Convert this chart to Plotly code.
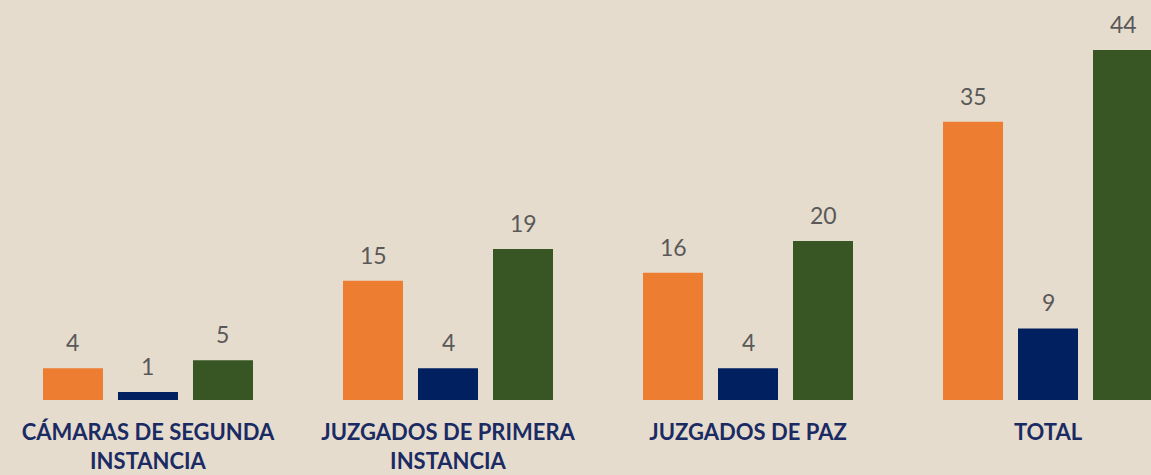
import plotly.graph_objects as go

categories = ["CÁMARAS DE SEGUNDA<br>INSTANCIA", "JUZGADOS DE PRIMERA<br>INSTANCIA", "JUZGADOS DE PAZ", "TOTAL"]
series_names = ["Serie 1", "Serie 2", "Serie 3"]
series_a = [4, 15, 16, 35]
series_b = [1, 4, 4, 9]
series_c = [5, 19, 20, 44]
colors = ["#ED7D31", "#002060", "#375623"]

all_series = [series_a, series_b, series_c]
xpos = list(range(len(categories)))

fig = go.Figure()
for name, vals, col in zip(series_names, all_series, colors):
    fig.add_trace(go.Bar(x=xpos, y=vals, name=name, marker_color=col, marker_line_width=0))

offsets = [-0.25, 0.0, 0.25]
for off, vals in zip(offsets, all_series):
    for i, v in enumerate(vals):
        fig.add_annotation(x=i + off, y=v, xref="x", yref="y", text=str(v),
                           showarrow=False, yanchor="bottom", yshift=10,
                           font=dict(family="Lato", size=23, color="#595959"))

fig.update_layout(
    width=1151, height=475,
    margin=dict(l=0, r=0, t=0, b=75),
    paper_bgcolor="#e6dccd", plot_bgcolor="#e6dccd",
    barmode="group", bargap=0.25, bargroupgap=0.2,
    showlegend=False,
    xaxis=dict(range=[-0.4933, 3.3433], tickvals=xpos, ticktext=categories,
               showgrid=False, zeroline=False, showline=False, ticks="",
               ticklabelstandoff=17, automargin=False,
               tickfont=dict(family="Lato", size=22, color="#1a2b63", weight="bold")),
    yaxis=dict(range=[0, 50.3], visible=False, showgrid=False),
)
fig.write_html("out.html", config={"displayModeBar": False},
               post_script="document.body.style.margin='0';")
